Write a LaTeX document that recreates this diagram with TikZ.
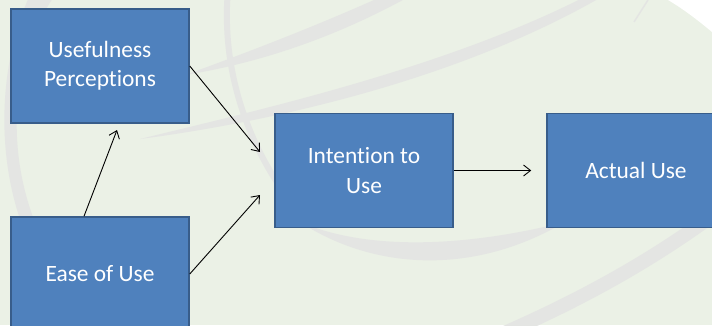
\documentclass[tikz,border=0pt]{standalone}
\usepackage{fontspec}
\setmainfont[Ligatures=NoCommon]{Carlito}
\usetikzlibrary{arrows.meta}
\definecolor{bgc}{RGB}{235,241,230}
\definecolor{bandc}{RGB}{228,229,227}
\definecolor{boxfill}{RGB}{79,129,189}
\definecolor{boxline}{RGB}{56,93,138}
\tikzset{
 band/.style={draw=bandc},
 bandfill/.style={fill=bandc},
 boxnode/.style={draw=boxline, fill=boxfill, line width=1.5bp, minimum width=178bp, minimum height=114bp, text=white, align=center, font=\fontsize{23.4bp}{29.3bp}\selectfont, inner sep=0pt},
 conn/.style={draw=black, line width=0.9bp, -{Straight Barb[length=7bp,width=11bp]}}
}
\begin{document}
\begin{tikzpicture}[x=1bp,y=-1bp]
\useasboundingbox (0,0) rectangle (712,325);
\fill[bgc] (0,0) rectangle (712,325);
\begin{scope}
\clip (0,0) rectangle (712,325);
% background swooshes
\fill[bandfill] (30,-5) .. controls (0,60) and (-5,150) .. (22,225) -- (36,225) .. controls (6,150) and (10,60) .. (55,-5) -- cycle;
\draw[band, line width=6bp] (228,-10) .. controls (220,80) and (255,165) .. (310,225);
\fill[bandfill] (300,222) .. controls (370,252) and (470,246) .. (565,222) .. controls (470,278) and (370,268) .. (300,222) -- cycle;
\fill[bandfill] (185,75) .. controls (260,48) and (330,20) .. (385,-5) -- (412,-5) .. controls (340,35) and (265,62) .. (185,75) -- cycle;
\fill[bandfill] (140,139) .. controls (250,112) and (450,68) .. (594,-8) -- (610,-8) .. controls (455,84) and (255,124) .. (140,139) -- cycle;
\draw[band, line width=14bp] (500,335) .. controls (580,300) and (650,262) .. (720,210);
\draw[band, line width=1.5bp] (648,0) -- (634,22);
\fill[white] (668,0) -- (712,0) -- (712,32) .. controls (700,22) and (685,10) .. (668,0);
\end{scope}
% boxes
\node[boxnode] (use) at (100,66) {Usefulness\\Perceptions};
\node[boxnode] (ease) at (100,274) {Ease of Use};
\node[boxnode] (int) at (364,170.5) {Intention to\\Use};
\node[boxnode] (act) at (636,170.5) {Actual Use};
% arrow ends
\coordinate (t1) at (260,152);
\coordinate (t2) at (260,195);
\coordinate (t3) at (117,130);
\draw[conn] (use.east) -- (t1);
\draw[conn] (ease.east) -- (t2);
\draw[conn] ([xshift=-16bp]ease.north) -- (t3);
\draw[conn] (int.east) -- ([xshift=-15bp]act.west);
\end{tikzpicture}
\end{document}
